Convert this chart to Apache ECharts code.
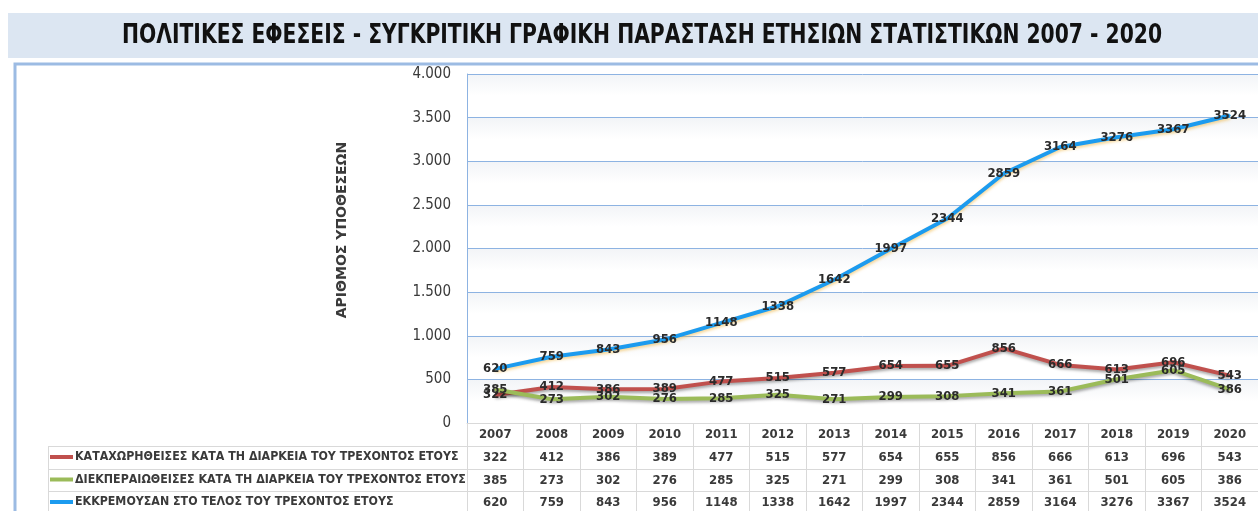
<!DOCTYPE html>
<html>
<head>
<meta charset="utf-8">
<title>Πολιτικές Εφέσεις 2007 - 2020</title>
<script src="https://cdn.jsdelivr.net/npm/echarts@6/dist/echarts.min.js"></script>
<style>
  html, body { margin: 0; padding: 0; background: #fff; }
  #main { width: 1258px; height: 511px; }
</style>
</head>
<body>
<div id="main"></div>
<script>
// δεδομένα
var years = ['2007', '2008', '2009', '2010', '2011', '2012', '2013', '2014', '2015', '2016', '2017', '2018', '2019', '2020'];
var kataxorithises = [322, 412, 386, 389, 477, 515, 577, 654, 655, 856, 666, 613, 696, 543];
var diekperaiothises = [385, 273, 302, 276, 285, 325, 271, 299, 308, 341, 361, 501, 605, 386];
var ekkremousan = [620, 759, 843, 956, 1148, 1338, 1642, 1997, 2344, 2859, 3164, 3276, 3367, 3524];
var seriesNames = [
  'ΚΑΤΑΧΩΡΗΘΕΙΣΕΣ ΚΑΤΑ ΤΗ ΔΙΑΡΚΕΙΑ ΤΟΥ ΤΡΕΧΟΝΤΟΣ ΕΤΟΥΣ',
  'ΔΙΕΚΠΕΡΑΙΩΘΕΙΣΕΣ ΚΑΤΑ ΤΗ ΔΙΑΡΚΕΙΑ ΤΟΥ ΤΡΕΧΟΝΤΟΣ ΕΤΟΥΣ',
  'ΕΚΚΡΕΜΟΥΣΑΝ ΣΤΟ ΤΕΛΟΣ ΤΟΥ ΤΡΕΧΟΝΤΟΣ ΕΤΟΥΣ'
];
var yMin = 0, yMax = 4000, yStep = 500;

var titleText = 'ΠΟΛΙΤΙΚΕΣ ΕΦΕΣΕΙΣ - ΣΥΓΚΡΙΤΙΚΗ ΓΡΑΦΙΚΗ ΠΑΡΑΣΤΑΣΗ ΕΤΗΣΙΩΝ ΣΤΑΤΙΣΤΙΚΩΝ 2007 - 2020';
var axisName = 'ΑΡΙΘΜΟΣ ΥΠΟΘΕΣΕΩΝ';

var colors = ['#c0504d', '#9bbb59', '#1c9bef'];
var tableRows = [kataxorithises, diekperaiothises, ekkremousan];
var textColor = '#3a3a3a';
var condensed = '"DejaVu Sans Condensed", "DejaVu Sans", sans-serif';
var tableLine = '#d9d9d9';

var myChart = echarts.init(document.getElementById('main'));

// 4000 -> 4.000
function fmtThousands(v) {
  return String(v).replace(/\B(?=(\d{3})+(?!\d))/g, '.');
}

function makeSeries(idx, data) {
  var glow = idx === 2 ? 'rgba(240,180,60,0.55)' : 'rgba(0,0,0,0.35)';
  return {
    name: seriesNames[idx],
    type: 'line',
    data: data,
    symbol: 'circle',
    symbolSize: 2,
    showSymbol: true,
    itemStyle: { color: colors[idx] },
    lineStyle: {
      color: colors[idx],
      width: 4,
      shadowColor: glow,
      shadowBlur: 3,
      shadowOffsetY: 2
    },
    label: {
      show: true,
      position: 'inside',
      color: '#2b2b2b',
      fontFamily: condensed,
      fontSize: 13,
      fontWeight: 'bold'
    },
    emphasis: { disabled: true },
    z: 2 + idx
  };
}

// γραμμές πίνακα (x axes που λειτουργούν ως γραμμές του πίνακα)
var tableAxes = tableRows.map(function (row, k) {
  return {
    type: 'category',
    gridIndex: 0,
    position: 'bottom',
    offset: [23, 46, 68][k],
    data: years,
    axisLine: { show: true, lineStyle: { color: tableLine, width: 1 } },
    axisTick: { show: false },
    splitLine: { show: false },
    axisLabel: {
      margin: 5,
      color: textColor,
      fontFamily: condensed,
      fontSize: 13,
      fontWeight: 'bold',
      formatter: function (v, i) { return String(row[i]); }
    }
  };
});

var option = {
  backgroundColor: '#fff',
  animation: false,
  color: colors,
  grid: {
    left: 467,
    right: 0,
    top: 74,
    bottom: 88,
    containLabel: false
  },
  legend: {
    orient: 'vertical',
    left: 50,
    top: 446,
    height: 90,
    padding: 0,
    itemGap: 0.5,
    itemWidth: 23,
    itemHeight: 4,
    icon: 'rect',
    selectedMode: false,
    data: seriesNames,
    textStyle: {
      color: textColor,
      fontFamily: condensed,
      fontSize: 12.3,
      fontWeight: 'bold',
      lineHeight: 22,
      padding: [0, 0, 0, -3]
    }
  },
  xAxis: [{
    type: 'category',
    data: years,
    boundaryGap: true,
    axisLine: { show: true, lineStyle: { color: tableLine, width: 1 } },
    axisTick: { show: true, inside: false, length: 90, lineStyle: { color: tableLine } },
    splitLine: { show: false },
    axisLabel: {
      margin: 5,
      color: textColor,
      fontFamily: condensed,
      fontSize: 13,
      fontWeight: 'bold'
    }
  }].concat(tableAxes),
  yAxis: {
    type: 'value',
    min: yMin,
    max: yMax,
    interval: yStep,
    axisLine: { show: true, lineStyle: { color: '#8db3e2', width: 1 } },
    axisTick: { show: false },
    axisLabel: {
      margin: 16,
      color: textColor,
      fontFamily: condensed,
      fontSize: 15,
      formatter: fmtThousands
    },
    splitLine: { show: true, lineStyle: { color: '#8db3e2', width: 1 } },
    splitArea: {
      show: true,
      areaStyle: {
        color: [new echarts.graphic.LinearGradient(0, 0, 0, 1, [
          { offset: 0, color: '#f2f4f7' },
          { offset: 0.5, color: '#ffffff' },
          { offset: 1, color: '#ffffff' }
        ])]
      }
    }
  },
  graphic: [
    // μπάντα τίτλου
    { type: 'rect', z: -10, shape: { x: 8, y: 13, width: 1250, height: 45 }, style: { fill: '#dce6f2' } },
    {
      type: 'text', z: 10, x: 642, y: 36, scaleX: 0.868,
      style: {
        text: titleText,
        font: 'bold 26px "DejaVu Sans Condensed", sans-serif',
        fill: '#111',
        align: 'center',
        verticalAlign: 'middle'
      }
    },
    // πλαίσιο γραφήματος
    { type: 'rect', z: -5, shape: { x: 15, y: 64, width: 1300, height: 500 }, style: { fill: null, stroke: '#9cbbe3', lineWidth: 3 } },
    // τίτλος άξονα y
    {
      type: 'text', z: 10, x: 342, y: 230, rotation: Math.PI / 2,
      style: {
        text: axisName,
        font: 'bold 14px "DejaVu Sans", sans-serif',
        fill: textColor,
        align: 'center',
        verticalAlign: 'middle'
      }
    },
    // αριστερό τμήμα πίνακα (υπόμνημα)
    { type: 'line', shape: { x1: 48, y1: 446.5, x2: 467, y2: 446.5 }, style: { stroke: tableLine, lineWidth: 1 } },
    { type: 'line', shape: { x1: 48, y1: 469.5, x2: 467, y2: 469.5 }, style: { stroke: tableLine, lineWidth: 1 } },
    { type: 'line', shape: { x1: 48, y1: 491.5, x2: 467, y2: 491.5 }, style: { stroke: tableLine, lineWidth: 1 } },
    { type: 'line', shape: { x1: 48.5, y1: 446, x2: 48.5, y2: 520 }, style: { stroke: tableLine, lineWidth: 1 } }
  ],
  series: [
    makeSeries(0, kataxorithises),
    makeSeries(1, diekperaiothises),
    makeSeries(2, ekkremousan)
  ]
};

myChart.setOption(option);
</script>
</body>
</html>
